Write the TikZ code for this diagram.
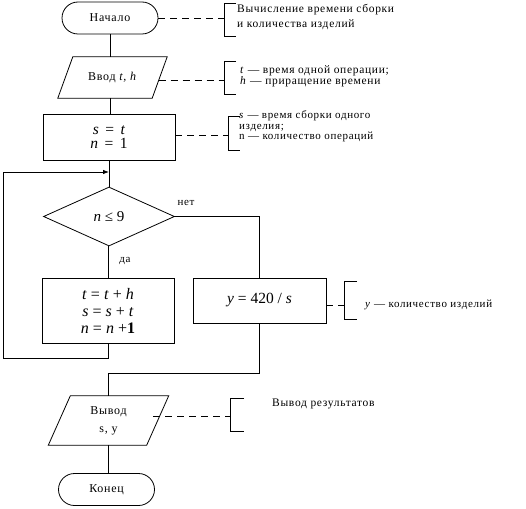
\documentclass[tikz,border=0pt]{standalone}
\usepackage{fontspec}
\setmainfont{Liberation Serif}
\newfontfamily\wide[LetterSpace=6]{Liberation Serif}
\usetikzlibrary{shapes.geometric,arrows.meta}
\begin{document}
\begin{tikzpicture}[x=1pt,y=-1pt,
  base/.style={draw, line width=0.8pt, inner sep=0pt, align=center},
  term/.style={base, rounded corners=16pt, minimum width=96pt, minimum height=32pt, font=\wide\fontsize{12}{14}\selectfont},
  iobox/.style={inner sep=0pt, align=center, rectangle},
  proc/.style={base, rectangle},
  decision/.style={base, diamond, aspect=2.22, minimum width=131pt, minimum height=59pt, font=\fontsize{15}{17}\selectfont},
  mathtext/.style={font=\fontsize{15.5}{15}\selectfont},
  note/.style={anchor=west, align=left, inner sep=0pt},
  dashedline/.style={line width=0.8pt, dash pattern=on 7pt off 5pt},
  line/.style={line width=0.8pt},
  lbl/.style={inner sep=0pt, font=\wide\fontsize{11}{13}\selectfont}
]
\useasboundingbox (0,0) rectangle (526,508);

% main nodes
\node[term] (start) at (110,18) {Начало};
\node[iobox, minimum width=94pt, minimum height=41pt, font=\wide\fontsize{12}{14}\selectfont] (in) at (112.5,77.5) {Ввод \textit{t, h}};
\draw[line] ([xshift=7.5pt]in.north west) -- ([xshift=7.5pt]in.north east) -- ([xshift=-7.5pt]in.south east) -- ([xshift=-7.5pt]in.south west) -- cycle;
\node[proc, minimum width=132pt, minimum height=46pt, mathtext] (set) at (109,137) {\textit{s}\, =\, \textit{t}\\[-1pt]\textit{n}\, =\, 1};
\node[decision] (dec) at (109,216.5) {\textit{n} ≤ 9};
\node[proc, minimum width=132pt, minimum height=65pt, font=\fontsize{16}{17}\selectfont] (body) at (108,310.5) {\textit{t} = \textit{t} + \textit{h}\\\textit{s} = \textit{s} + \textit{t}\\\textit{n} = \textit{n} +\textbf{1}};
\node[proc, minimum width=133pt, minimum height=45pt, mathtext] (calc) at (259.5,300.5) {\textit{y} = 420 / \textit{s}};
\node[iobox, minimum width=98pt, minimum height=49pt, font=\wide\fontsize{12}{18}\selectfont] (out) at (108.5,420.5) {Вывод\\s, y};
\draw[line] ([xshift=11pt]out.north west) -- ([xshift=11pt]out.north east) -- ([xshift=-11pt]out.south east) -- ([xshift=-11pt]out.south west) -- cycle;
\node[term] (end) at (106.5,489.5) {Конец};

% labels
\node[lbl] (no) at (186,203) {нет};
\node[lbl] (yes) at (125,261) {да};

% connectors
\draw[line] (start.south) -- (start.south |- in.north);
\draw[line] (start.south |- in.south) -- (start.south |- set.north);
\draw[line] (set.south) -- (dec.north);
\draw[line] (dec.south -| body.north) -- (body.north);
\draw[line] (dec.east) -| (calc.north);
\coordinate (loopL) at (3,358);
\coordinate (merge) at (109,172);
\draw[line, -{Latex[length=6pt,width=4.5pt]}] (body.south) |- (loopL) |- (merge);
\coordinate (join) at (108,373);
\draw[line] (calc.south) |- (join) -- (join |- out.north);
\draw[line] (out.south -| end.north) ++(1.5,0) -- ([xshift=1.5pt]end.north);

% annotations
\coordinate (b1) at (224,18);
\draw[dashedline] (start.east) -- (b1);
\draw[line] (236,3) -- (224,3) -- (224,36) -- (236,36);
\node[note, font=\wide\fontsize{11.5}{15}\selectfont] (n1) at (237,16.5) {Вычисление времени сборки\\и количества изделий};

\coordinate (b2) at (224,80);
\draw[dashedline] (in.east |- b2) ++(-1,0) -- (b2);
\draw[line] (236,61) -- (224,61) -- (224,94) -- (236,94);
\node[note, font=\wide\fontsize{11.5}{11}\selectfont] (n2) at (240,76.5) {\textit{t} — время одной операции;\\\textit{h} — приращение времени};

\coordinate (b3) at (228,135);
\draw[dashedline] (set.east |- b3) -- (b3);
\draw[line] (240,116) -- (228,116) -- (228,150) -- (240,150);
\node[note, font=\wide\fontsize{11}{10.5}\selectfont] (n3) at (239,126.5) {\textit{s} — время сборки одного\\изделия;\\n — количество операций};

\coordinate (b4) at (344,305);
\draw[dashedline] (calc.east |- b4) -- (b4);
\draw[line] (357,281) -- (344,281) -- (344,319) -- (357,319);
\node[note, font=\wide\fontsize{11}{14}\selectfont] (n4) at (365,305) {\textit{y} — количество изделий};

\coordinate (b5) at (230,416);
\draw[dashedline] (153,416) -- (b5);
\draw[line] (244,398) -- (230,398) -- (230,431) -- (244,431);
\node[note, font=\wide\fontsize{11.5}{14}\selectfont] (n5) at (272,404) {Вывод результатов};
\end{tikzpicture}
\end{document}
